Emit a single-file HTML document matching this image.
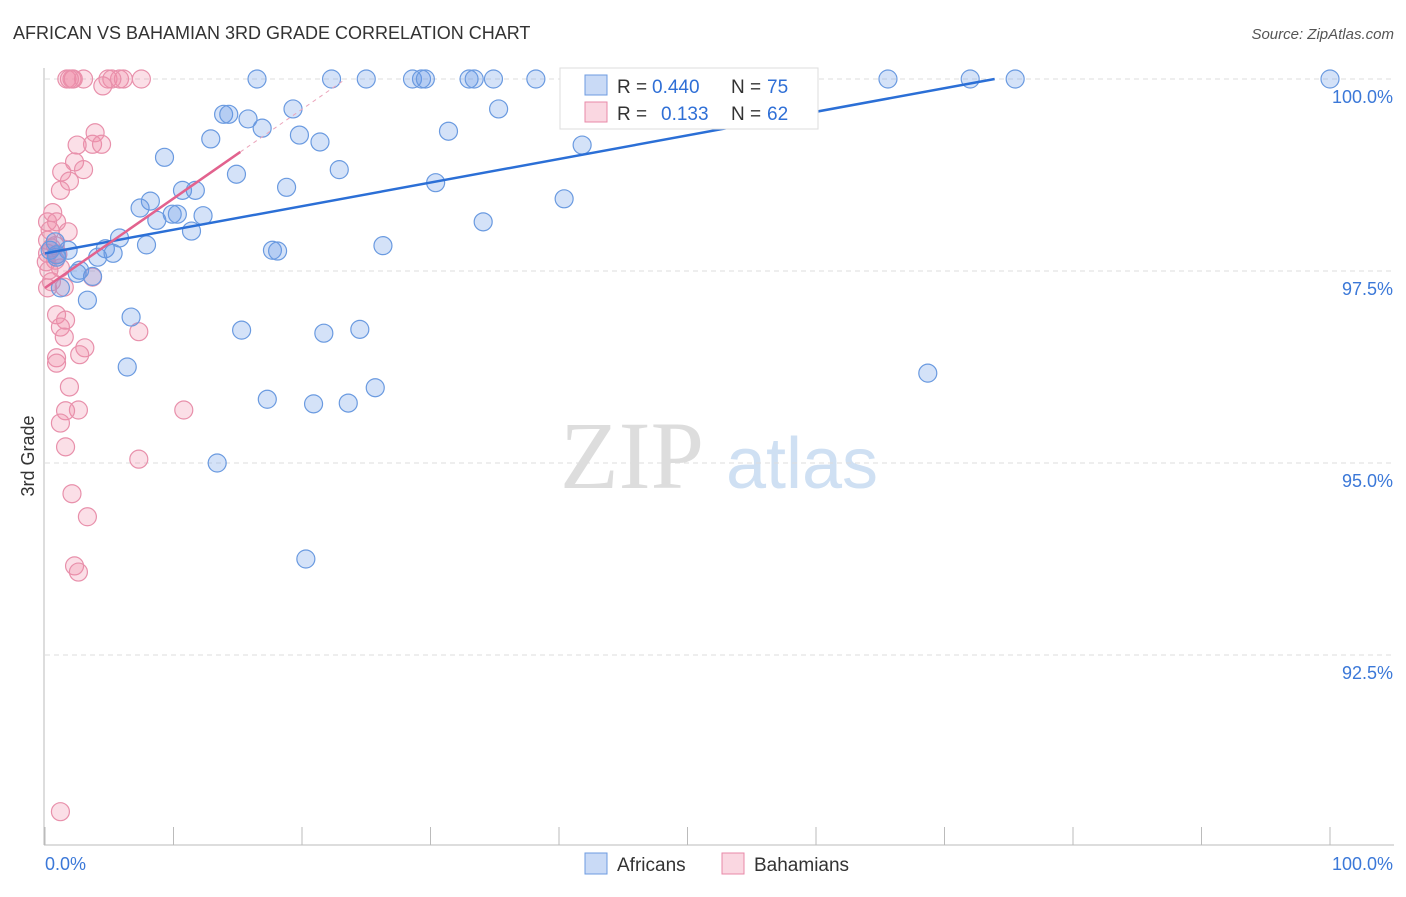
<!DOCTYPE html>
<html><head><meta charset="utf-8"><style>
body{margin:0;background:#fff;font-family:"Liberation Sans",sans-serif;}
</style></head><body>
<svg id="chart" width="1406" height="892" xmlns="http://www.w3.org/2000/svg" font-family="Liberation Sans, sans-serif">
<text x="13" y="39" font-size="18" fill="#333">AFRICAN VS BAHAMIAN 3RD GRADE CORRELATION CHART</text>
<text x="1394" y="39" font-size="15" fill="#555" text-anchor="end" font-style="italic">Source: ZipAtlas.com</text>
<text transform="translate(34,456) rotate(-90)" font-size="18" fill="#333" text-anchor="middle">3rd Grade</text>
<g>
<text x="632" y="488" font-size="96" font-family="Liberation Serif, serif" fill="#ddd" text-anchor="middle">ZIP</text>
<text x="802" y="488" font-size="72" fill="#cfe0f3" text-anchor="middle">atlas</text>
</g>
<g id="grid"></g><g id="axes"></g><g id="marks"></g>
<g>
<rect x="560" y="68" width="258" height="61" fill="#fff" stroke="#ddd"/>
<rect x="585" y="75" width="22" height="20" fill="rgba(100,150,230,0.35)" stroke="#6d9be0"/>
<rect x="585" y="102" width="22" height="20" fill="rgba(240,140,170,0.35)" stroke="#e88aa8"/>
<text x="617" y="93" font-size="19" fill="#333">R =</text>
<text x="652" y="93" font-size="19" fill="#2f6fd6">0.440</text>
<text x="731" y="93" font-size="19" fill="#333">N =</text>
<text x="767" y="93" font-size="19" fill="#2f6fd6">75</text>
<text x="617" y="120" font-size="19" fill="#333">R =</text>
<text x="661" y="120" font-size="19" fill="#2f6fd6">0.133</text>
<text x="731" y="120" font-size="19" fill="#333">N =</text>
<text x="767" y="120" font-size="19" fill="#2f6fd6">62</text>
</g>
<g>
<rect x="585" y="853" width="22" height="21" fill="rgba(100,150,230,0.35)" stroke="#6d9be0"/>
<text x="617" y="871" font-size="19" fill="#333">Africans</text>
<rect x="722" y="853" width="22" height="21" fill="rgba(240,140,170,0.35)" stroke="#e88aa8"/>
<text x="754" y="871" font-size="19" fill="#333">Bahamians</text>
</g>
</svg>
<script>
const yTicks=[100,97.5,95,92.5];
const yTickLabels=["100.0%","97.5%","95.0%","92.5%"];
const xTickLabels=["0.0%","100.0%"];
const afrX=[16.5,22.3,25.0,28.6,29.3,29.6,33.0,33.4,34.9,38.2,42.9,52.3,55.6,58.8,59.1,65.6,72.0,75.5,100,13.9,14.3,15.8,16.9,19.3,35.3,12.9,19.8,21.4,31.4,9.3,41.8,14.9,22.9,18.8,30.4,10.7,11.7,8.2,7.4,8.7,9.9,10.3,12.3,11.4,40.4,34.1,5.8,7.9,4.7,5.3,1.8,0.8,4.1,17.7,18.1,26.3,0.9,2.7,3.7,1.2,2.5,3.3,6.7,15.3,21.7,24.5,6.4,25.7,17.3,20.9,23.6,13.4,20.3,68.7,0.9,0.4];
const afrY=[100,100,100,100,100,100,100,100,100,100,100,100,100,100,100,100,100,100,100,99.54,99.54,99.48,99.36,99.61,99.61,99.22,99.27,99.18,99.32,98.98,99.14,98.76,98.82,98.59,98.65,98.55,98.55,98.41,98.32,98.16,98.24,98.24,98.22,98.02,98.44,98.14,97.93,97.84,97.79,97.73,97.77,97.88,97.68,97.77,97.76,97.83,97.68,97.51,97.43,97.28,97.47,97.12,96.90,96.73,96.69,96.74,96.25,95.98,95.83,95.77,95.78,95.0,93.75,96.17,97.71,97.77];
const bahX=[1.7,2.1,2.2,3.0,4.9,5.8,6.1,7.5,1.9,5.2,4.5,3.9,3.7,4.4,2.5,2.3,3.0,1.3,1.9,1.2,0.6,0.9,0.2,1.8,0.2,0.5,0.2,0.8,1.0,1.2,3.7,0.2,1.5,0.9,1.6,1.2,1.5,3.1,7.3,2.7,0.9,0.9,1.9,2.6,1.6,10.8,1.2,1.6,7.3,2.1,3.3,2.3,2.6,1.2,0.5,0.4,0.1,0.3,0.8];
const bahY=[100,100,100,100,100,100,100,100,100,100,99.91,99.30,99.15,99.15,99.14,98.92,98.82,98.79,98.67,98.55,98.26,98.14,98.14,98.01,97.90,97.80,97.73,97.64,97.72,97.54,97.42,97.28,97.29,96.93,96.86,96.77,96.64,96.50,96.71,96.41,96.37,96.30,95.99,95.69,95.68,95.69,95.52,95.21,95.05,94.60,94.30,93.66,93.58,90.46,97.36,98.03,97.62,97.51,97.83];
const afrTrend=[[0,97.73],[73.9,100]];
const bahTrend=[[0,97.28],[15.2,99.05]];
const bahTrendExt=[[15.2,99.05],[23.4,100]];

const NS="http://www.w3.org/2000/svg";
const sx=v=>45+v*12.85;
const sy=v=>79+(100-v)*76.8;
function mk(tag,attrs,parent){const e=document.createElementNS(NS,tag);for(const k in attrs)e.setAttribute(k,attrs[k]);document.getElementById(parent).appendChild(e);return e;}
yTicks.forEach((t,i)=>{
  const l=mk('line',{x1:45,x2:1394,y1:sy(t),y2:sy(t),stroke:'#ddd','stroke-dasharray':'5,4'},'grid');
  
  
  const tx=mk('text',{x:1393,y:sy(t)+24,'font-size':18,fill:'#3b78d8','text-anchor':'end'},'axes');
  tx.textContent=yTickLabels[i];
  
  
});
const ax=mk('line',{x1:44,x2:44,y1:68,y2:845,stroke:'#bbb'},'axes');


const bx=mk('line',{x1:44,x2:1394,y1:845,y2:845,stroke:'#bbb'},'axes');


for(let i=0;i<=10;i++){
  const t=mk('line',{x1:sx(i*10),x2:sx(i*10),y1:827,y2:845,stroke:'#bbb'},'axes');
  
  
}
const xl0=mk('text',{x:45,y:870,'font-size':18,fill:'#3b78d8'},'axes');xl0.textContent=xTickLabels[0];


const xl1=mk('text',{x:1393,y:870,'font-size':18,fill:'#3b78d8','text-anchor':'end'},'axes');xl1.textContent=xTickLabels[1];


function dots(X,Y,fill,stroke,name){X.forEach((x,i)=>{
  const c=mk('circle',{cx:sx(x),cy:sy(Y[i]),r:9,fill:fill,stroke:stroke,'stroke-width':1.2},'marks');
  
  
});}
dots(bahX,bahY,'rgba(240,140,170,0.28)','#e890ab','bahamian-point');
dots(afrX,afrY,'rgba(100,150,230,0.28)','#6a9ae0','african-point');
const l1=mk('line',{x1:sx(afrTrend[0][0]),y1:sy(afrTrend[0][1]),x2:sx(afrTrend[1][0]),y2:sy(afrTrend[1][1]),stroke:'#2b6fd6','stroke-width':2.5},'marks');


const l2=mk('line',{x1:sx(bahTrend[0][0]),y1:sy(bahTrend[0][1]),x2:sx(bahTrend[1][0]),y2:sy(bahTrend[1][1]),stroke:'#e2628e','stroke-width':2.5},'marks');


const l3=mk('line',{x1:sx(bahTrendExt[0][0]),y1:sy(bahTrendExt[0][1]),x2:sx(bahTrendExt[1][0]),y2:sy(bahTrendExt[1][1]),stroke:'#eba5bb','stroke-width':1,'stroke-dasharray':'4,4'},'marks');


</script>
</body></html>
